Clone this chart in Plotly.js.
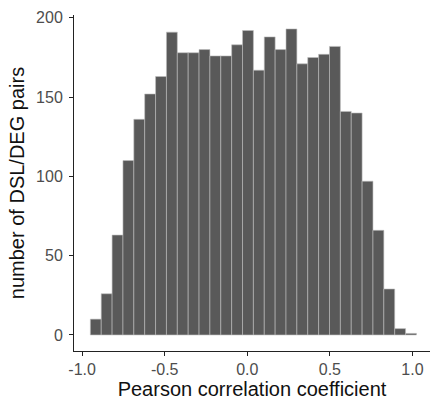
<!DOCTYPE html>
<html>
<head>
<meta charset="utf-8">
<script src="https://cdn.plot.ly/plotly-3.0.1.min.js"></script>
<style>html,body{margin:0;padding:0;background:#fff;}#chart{width:430px;height:405px;}</style>
</head>
<body>
<div id="chart"></div>
<script>
// Histogram bins (centres) of Pearson correlation coefficient, 30 bins
const binCenters = [-0.9171, -0.8513, -0.7855, -0.7197, -0.6539, -0.5881, -0.5223, -0.4565, -0.3907, -0.3249,
                    -0.2591, -0.1933, -0.1275, -0.0617, 0.0041, 0.0699, 0.1357, 0.2015, 0.2673, 0.3331,
                    0.3989, 0.4647, 0.5305, 0.5963, 0.6621, 0.7279, 0.7937, 0.8595, 0.9253, 0.9911];
const binWidth = 0.0658;
const counts = [10, 26, 63, 110, 136, 152, 163, 191, 178, 178,
                180, 176, 176, 183, 192, 167, 188, 180, 193, 171,
                175, 177, 182, 141, 140, 97, 66, 29, 4, 1];
const xTickVals = [-1.0, -0.5, 0.0, 0.5, 1.0];
const xTickText = ["-1.0", "-0.5", "0.0", "0.5", "1.0"];
const yTickVals = [0, 50, 100, 150, 200];
const yTickText = ["0", "50", "100", "150", "200"];

const font = "'Liberation Sans', Arial, Helvetica, sans-serif";

Plotly.newPlot('chart', [{
  type: 'bar',
  x: binCenters,
  y: counts,
  width: binCenters.map(() => binWidth),
  marker: { color: '#595959', line: { color: 'rgba(190,190,190,1)', width: 0.6 } },
  hoverinfo: 'skip'
}], {
  width: 430, height: 405,
  margin: { l: 74, r: 0, t: 15, b: 54, pad: 0 },
  paper_bgcolor: '#fff', plot_bgcolor: '#fff',
  showlegend: false,
  bargap: 0,
  font: { family: font, color: '#4d4d4d' },
  xaxis: {
    range: [-1.049, 1.106],
    tickvals: xTickVals, ticktext: xTickText,
    ticks: 'outside', ticklen: 4, tickwidth: 1, tickcolor: '#222',
    showline: true, linecolor: '#222', linewidth: 1,
    showgrid: false, zeroline: false,
    ticklabelstandoff: 0,
    tickfont: { size: 16, color: '#4d4d4d', family: font },
    title: { text: 'Pearson correlation coefficient', font: { size: 20, color: '#111', family: font }, standoff: 4 }
  },
  yaxis: {
    range: [-10.1, 201.8],
    tickvals: yTickVals, ticktext: yTickText,
    ticks: 'outside', ticklen: 4, tickwidth: 1, tickcolor: '#222',
    showline: true, linecolor: '#222', linewidth: 1,
    showgrid: false, zeroline: false,
    ticklabelstandoff: 3,
    tickfont: { size: 16, color: '#4d4d4d', family: font },
    title: { text: 'number of DSL/DEG pairs', font: { size: 20, color: '#111', family: font }, standoff: 6 }
  }
}, { displayModeBar: false, staticPlot: true });
</script>
</body>
</html>
